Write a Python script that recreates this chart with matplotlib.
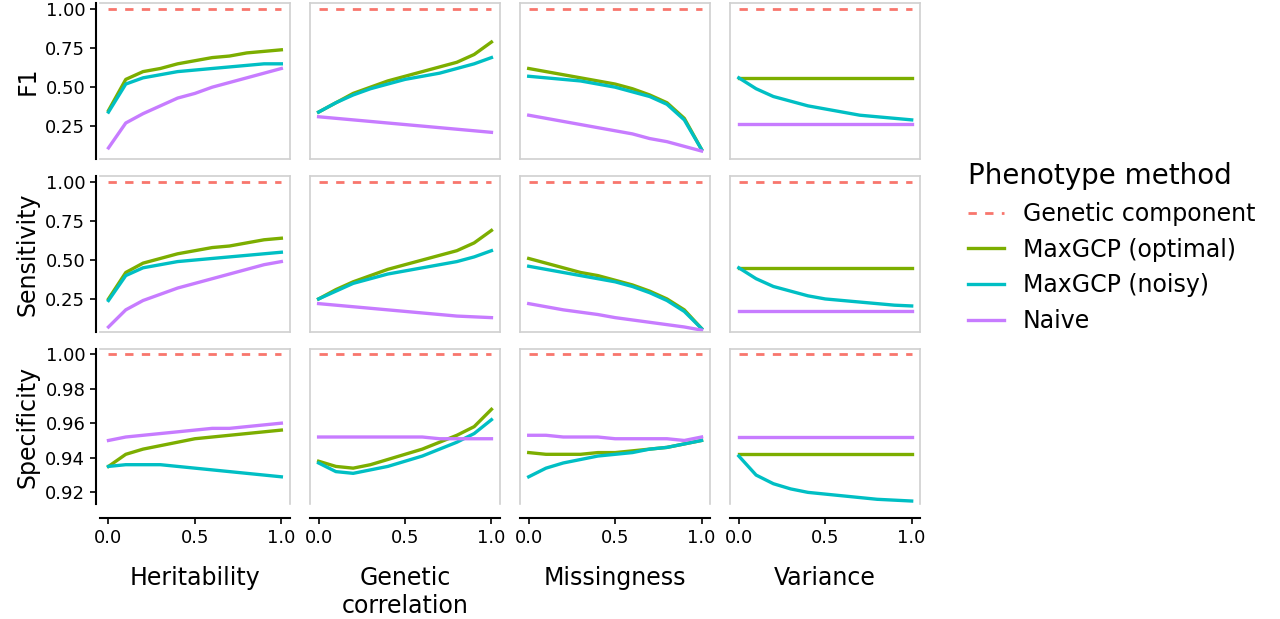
import matplotlib.pyplot as plt
import numpy as np

x = np.linspace(0, 1, 11)
columns = ['Heritability', 'Genetic\ncorrelation', 'Missingness', 'Variance']
rows = ['F1', 'Sensitivity', 'Specificity']
methods = ['Genetic component', 'MaxGCP (optimal)', 'MaxGCP (noisy)', 'Naive']
colors = ['#F8766D', '#7CAE00', '#00BFC4', '#C77CFF']

# values[row][col] = (optimal, noisy, naive); genetic component is 1.0 everywhere
f1_opt = [[0.35,0.55,0.60,0.62,0.65,0.67,0.69,0.70,0.72,0.73,0.74],
          [0.34,0.40,0.46,0.50,0.54,0.57,0.60,0.63,0.66,0.71,0.79],
          [0.62,0.60,0.58,0.56,0.54,0.52,0.49,0.45,0.40,0.30,0.10],
          [0.56]*11]
f1_noisy = [[0.34,0.52,0.56,0.58,0.60,0.61,0.62,0.63,0.64,0.65,0.65],
            [0.34,0.40,0.45,0.49,0.52,0.55,0.57,0.59,0.62,0.65,0.69],
            [0.57,0.56,0.55,0.54,0.52,0.50,0.47,0.44,0.39,0.29,0.10],
            [0.56,0.49,0.44,0.41,0.38,0.36,0.34,0.32,0.31,0.30,0.29]]
f1_naive = [[0.11,0.27,0.33,0.38,0.43,0.46,0.50,0.53,0.56,0.59,0.62],
            [0.31,0.30,0.29,0.28,0.27,0.26,0.25,0.24,0.23,0.22,0.21],
            [0.32,0.30,0.28,0.26,0.24,0.22,0.20,0.17,0.15,0.12,0.09],
            [0.265]*11]
sens_opt = [[0.25,0.42,0.48,0.51,0.54,0.56,0.58,0.59,0.61,0.63,0.64],
            [0.25,0.31,0.36,0.40,0.44,0.47,0.50,0.53,0.56,0.61,0.69],
            [0.51,0.48,0.45,0.42,0.40,0.37,0.34,0.30,0.25,0.18,0.06],
            [0.45]*11]
sens_noisy = [[0.24,0.40,0.45,0.47,0.49,0.50,0.51,0.52,0.53,0.54,0.55],
              [0.25,0.30,0.35,0.38,0.41,0.43,0.45,0.47,0.49,0.52,0.56],
              [0.46,0.44,0.42,0.40,0.38,0.36,0.33,0.29,0.24,0.17,0.06],
              [0.45,0.38,0.33,0.30,0.27,0.25,0.24,0.23,0.22,0.21,0.205]]
sens_naive = [[0.07,0.18,0.24,0.28,0.32,0.35,0.38,0.41,0.44,0.47,0.49],
              [0.22,0.21,0.20,0.19,0.18,0.17,0.16,0.15,0.14,0.135,0.13],
              [0.22,0.20,0.18,0.165,0.15,0.13,0.115,0.10,0.085,0.07,0.05],
              [0.17]*11]
spec_opt = [[0.935,0.942,0.945,0.947,0.949,0.951,0.952,0.953,0.954,0.955,0.956],
            [0.938,0.935,0.934,0.936,0.939,0.942,0.945,0.949,0.953,0.958,0.968],
            [0.943,0.942,0.942,0.942,0.943,0.943,0.944,0.945,0.946,0.948,0.950],
            [0.942]*11]
spec_noisy = [[0.935,0.936,0.936,0.936,0.935,0.934,0.933,0.932,0.931,0.930,0.929],
              [0.937,0.932,0.931,0.933,0.935,0.938,0.941,0.945,0.949,0.954,0.962],
              [0.929,0.934,0.937,0.939,0.941,0.942,0.943,0.945,0.946,0.948,0.950],
              [0.941,0.930,0.925,0.922,0.920,0.919,0.918,0.917,0.916,0.9155,0.915]]
spec_naive = [[0.950,0.952,0.953,0.954,0.955,0.956,0.957,0.957,0.958,0.959,0.960],
              [0.952,0.952,0.952,0.952,0.952,0.952,0.952,0.951,0.951,0.951,0.951],
              [0.953,0.953,0.952,0.952,0.952,0.951,0.951,0.951,0.951,0.950,0.952],
              [0.952]*11]
genetic = [1.0]*11

data = [(f1_opt, f1_noisy, f1_naive), (sens_opt, sens_noisy, sens_naive),
        (spec_opt, spec_noisy, spec_naive)]

fig, axes = plt.subplots(3, 4, figsize=(12.8, 6.19), dpi=100, sharex=True)
plt.subplots_adjust(left=0.078, right=0.719, top=0.995, bottom=0.185,
                    wspace=0.105, hspace=0.11)

for r in range(3):
    opt, noisy, naive = data[r]
    for c in range(4):
        ax = axes[r, c]
        ax.plot(x, genetic, color=colors[0], ls=(0, (3, 3)), lw=2, label=methods[0])
        ax.plot(x, opt[c], color=colors[1], lw=2.4, label=methods[1])
        ax.plot(x, noisy[c], color=colors[2], lw=2.4, label=methods[2])
        ax.plot(x, naive[c], color=colors[3], lw=2.4, label=methods[3])
        for s in ax.spines.values():
            s.set_color('#d0d0d0')
            s.set_linewidth(1.2)
        if r < 2:
            ax.set_ylim(0.04, 1.04)
            ax.set_yticks([0.25, 0.5, 0.75, 1.0])
        else:
            ax.set_ylim(0.913, 1.003)
            ax.set_yticks([0.92, 0.94, 0.96, 0.98, 1.00])
        ax.set_xlim(-0.05, 1.05)
        ax.set_xticks([0, 0.5, 1.0])
        ax.set_xticklabels(['0.0', '0.5', '1.0'])
        ax.tick_params(labelsize=13, length=4, width=1.2)
        if c == 0:
            ax.spines['left'].set_color('black')
            ax.spines['left'].set_linewidth(1.5)
            ax.spines['left'].set_position(('outward', 3))
            ax.set_ylabel(rows[r], fontsize=17)
        else:
            ax.tick_params(axis='y', left=False, labelleft=False)
        if r == 2:
            ax.spines['bottom'].set_color('black')
            ax.spines['bottom'].set_linewidth(1.5)
            ax.spines['bottom'].set_position(('outward', 10))
            ax.set_xlabel(columns[c], fontsize=17, labelpad=14)
        else:
            ax.tick_params(axis='x', bottom=False)

handles, labels = axes[0, 0].get_legend_handles_labels()
leg = fig.legend(handles, labels, loc='center left', bbox_to_anchor=(0.74, 0.6),
                 frameon=False, fontsize=17, title='Phenotype method',
                 title_fontsize=20, handlelength=1.5)
leg._legend_box.align = 'left'

plt.savefig('out.png', dpi=100)
